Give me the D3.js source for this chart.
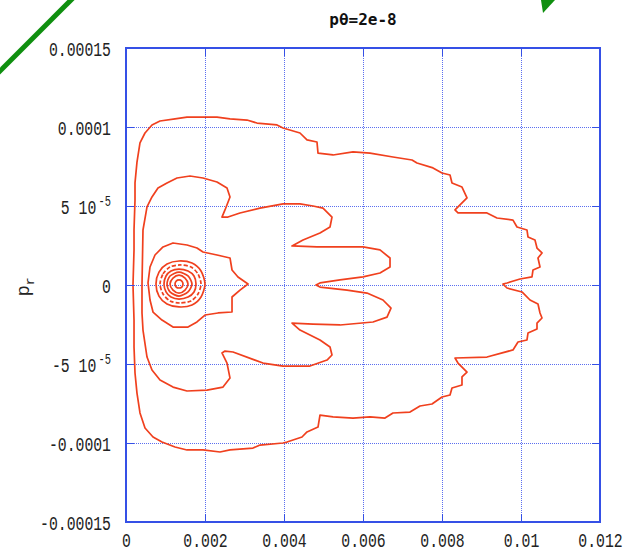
<!DOCTYPE html>
<html><head><meta charset="utf-8">
<script src="https://cdn.jsdelivr.net/npm/d3@7"></script>
<style>
html,body{margin:0;padding:0;background:#fff;}
svg{display:block;}
</style></head><body>
<svg id="chart" width="625" height="553"></svg>
<script>
// Contour points are stored as [r, p_r] with r in units of 1e-3 and p_r in units of 1e-5.
const R_UNIT = 1e-3, P_UNIT = 1e-5;

const titleText = "pθ=2e-8";
const xTickValues = [0, 0.002, 0.004, 0.006, 0.008, 0.01, 0.012];
const xTickLabels = ["0", "0.002", "0.004", "0.006", "0.008", "0.01", "0.012"];
const yTickValues = [-0.00015, -0.0001, -0.00005, 0, 0.00005, 0.0001, 0.00015];
// [mantissa part, exponent part]
const yTickLabels = [["-0.00015", ""], ["-0.0001", ""], ["-5 10", "-5"], ["0", ""], ["5 10", "-5"], ["0.0001", ""], ["0.00015", ""]];

// Outermost level
const contourOuter = [
  [0.177, 0], [0.203, 2.22], [0.203, 3.48], [0.228, 5.38], [0.228, 6.46], [0.278, 7.78],
  [0.354, 8.99], [0.481, 9.62], [0.658, 10.13], [0.861, 10.38], [1.241, 10.51], [1.544, 10.63],
  [1.873, 10.63], [2.304, 10.63], [2.633, 10.51], [3.063, 10.44], [3.316, 10.25], [3.823, 10.13],
  [3.975, 9.94], [4.405, 9.62], [4.582, 9.18], [4.835, 9.05], [4.861, 8.35], [5.241, 8.23],
  [5.747, 8.42], [6.177, 8.35], [6.759, 8.10], [7.241, 7.91], [7.367, 7.72], [7.772, 7.41],
  [8.000, 7.09], [8.203, 6.96], [8.253, 6.46], [8.506, 6.20], [8.633, 5.51], [8.329, 4.75],
  [8.405, 4.56], [9.139, 4.56], [9.392, 4.24], [9.797, 4.11], [9.899, 3.67], [10.152, 3.48],
  [10.177, 3.04], [10.354, 2.85], [10.405, 2.34], [10.532, 2.03], [10.430, 1.71], [10.481, 1.14],
  [10.304, 0.95], [10.278, 0.51], [9.975, 0.38], [9.646, 0.13], [9.544, 0.06], [9.646, -0.19],
  [10.025, -0.44], [10.228, -0.95], [10.430, -1.20], [10.481, -1.77], [10.532, -2.09], [10.405, -2.41],
  [10.405, -2.78], [10.177, -3.04], [10.152, -3.48], [9.924, -3.61], [9.797, -4.11], [9.139, -4.56],
  [8.329, -4.62], [8.405, -4.94], [8.633, -5.51], [8.506, -5.82], [8.506, -6.33], [8.253, -6.52],
  [8.203, -6.96], [8.000, -7.09], [7.747, -7.53], [7.443, -7.66], [7.190, -8.04], [6.759, -8.10],
  [6.557, -8.42], [6.177, -8.35], [5.747, -8.42], [5.241, -8.35], [4.911, -8.23], [4.861, -8.99],
  [4.582, -9.30], [4.456, -9.62], [4.076, -9.94], [3.975, -10.00], [3.392, -10.13], [3.215, -10.32],
  [2.633, -10.44], [2.380, -10.57], [1.949, -10.44], [1.544, -10.44], [1.241, -10.25], [0.911, -9.94],
  [0.684, -9.62], [0.481, -9.05], [0.354, -8.10], [0.278, -6.84], [0.228, -5.57], [0.203, -3.92],
  [0.203, -2.22]
];

// Second level, with the lobes
const contourLobed = [
  [0.405, 0], [0.430, 3.48], [0.532, 4.94], [0.658, 5.57], [0.810, 6.14], [1.038, 6.46],
  [1.291, 6.77], [1.620, 6.90], [1.949, 6.77], [2.304, 6.52], [2.557, 6.14], [2.633, 5.57],
  [2.506, 4.75], [2.430, 4.30], [2.582, 4.30], [2.886, 4.56], [3.392, 4.87], [3.975, 5.13],
  [4.405, 5.13], [4.734, 5.00], [4.987, 4.87], [5.215, 4.30], [5.165, 3.67], [4.911, 3.29],
  [4.481, 2.85], [4.203, 2.47], [4.835, 2.41], [6.000, 2.41], [6.430, 2.22], [6.684, 1.71],
  [6.684, 1.14], [6.430, 0.76], [6.000, 0.51], [5.418, 0.32], [4.911, 0.13], [4.810, 0],
  [4.911, -0.13], [5.595, -0.32], [6.101, -0.51], [6.506, -0.95], [6.709, -1.46], [6.608, -2.03],
  [6.253, -2.34], [5.418, -2.53], [4.734, -2.47], [4.203, -2.41], [4.405, -2.85], [4.911, -3.48],
  [5.165, -3.92], [5.215, -4.43], [5.089, -4.75], [4.658, -5.13], [3.975, -5.13], [3.468, -4.94],
  [2.709, -4.24], [2.506, -4.18], [2.430, -4.30], [2.557, -4.94], [2.633, -5.89], [2.456, -6.46],
  [2.051, -6.65], [1.544, -6.71], [1.190, -6.46], [0.861, -6.01], [0.658, -5.38], [0.532, -4.56],
  [0.430, -2.85], [0.405, -1.77]
];

// Third level, around the centre
const contourThird = [
  [0.557, 0.13], [0.608, 1.14], [0.734, 1.90], [0.937, 2.41], [1.190, 2.66], [1.544, 2.53],
  [1.797, 2.34], [1.949, 2.09], [2.304, 1.90], [2.633, 1.71], [2.684, 0.95], [2.835, 0.51],
  [3.089, 0.06], [2.886, -0.32], [2.684, -0.76], [2.684, -1.71], [2.329, -1.77], [2.000, -1.90],
  [1.797, -2.34], [1.570, -2.66], [1.190, -2.66], [0.911, -2.22], [0.684, -1.71], [0.608, -0.95]
];

// Inner rings around the centre (r ≈ 0.0013)
const ringA = [[0.759, 0.06], [0.835, 0.82], [1.038, 1.33], [1.342, 1.52], [1.671, 1.39], [1.899, 0.89],
  [2.0, 0.06], [1.899, -0.76], [1.671, -1.27], [1.342, -1.39], [1.038, -1.20], [0.835, -0.70]];
const ringB = [[0.861, 0.06], [0.937, 0.70], [1.114, 1.14], [1.367, 1.27], [1.646, 1.14], [1.823, 0.70],
  [1.899, 0.06], [1.823, -0.57], [1.646, -1.01], [1.367, -1.14], [1.114, -1.01], [0.937, -0.57]];
const ringC = [[0.962, 0.06], [1.013, 0.57], [1.139, 0.89], [1.342, 1.01], [1.570, 0.89], [1.722, 0.57],
  [1.772, 0.06], [1.722, -0.44], [1.570, -0.76], [1.342, -0.89], [1.139, -0.76], [1.013, -0.44]];
const ringD = [[1.038, 0.06], [1.114, 0.57], [1.342, 0.82], [1.570, 0.57], [1.671, 0.06], [1.570, -0.44],
  [1.342, -0.70], [1.114, -0.44]];
const ringE = [[1.114, 0.06], [1.190, 0.44], [1.342, 0.63], [1.494, 0.44], [1.570, 0.06], [1.494, -0.32],
  [1.342, -0.51], [1.190, -0.32]];
const ringF = [[1.241, 0.06], [1.271, 0.25], [1.342, 0.32], [1.413, 0.25], [1.443, 0.06], [1.413, -0.13],
  [1.342, -0.19], [1.271, -0.13]];

// ---------------------------------------------------------------------------
const svg = d3.select("#chart");
svg.append("rect").attr("width", 625).attr("height", 553).attr("fill", "#fff");

const plotLeft = 126, plotRight = 600, plotTop = 48, plotBottom = 522;
const x = d3.scaleLinear().domain([0, 0.012]).range([plotLeft, plotRight]);
const y = d3.scaleLinear().domain([-0.00015, 0.00015]).range([plotBottom, plotTop]);

const GRID = "#5b6ff0", FRAME = "#3550e6", LINE = "#f0401e";
const MONO = "'Liberation Mono', 'DejaVu Sans Mono', monospace";
const SX = 0.74; // horizontal condensing of the label glyphs

// dotted grid
const grid = svg.append("g").attr("shape-rendering", "crispEdges");
grid.selectAll("line.vx").data(xTickValues.slice(1, -1)).join("line")
  .attr("x1", d => Math.round(x(d)) + 0.5).attr("x2", d => Math.round(x(d)) + 0.5)
  .attr("y1", plotTop).attr("y2", plotBottom)
  .attr("stroke", GRID).attr("stroke-width", 1).attr("stroke-dasharray", "1,1");
grid.selectAll("line.hy").data(yTickValues.slice(1, -1)).join("line")
  .attr("y1", d => Math.round(y(d)) + 0.5).attr("y2", d => Math.round(y(d)) + 0.5)
  .attr("x1", plotLeft).attr("x2", plotRight)
  .attr("stroke", GRID).attr("stroke-width", 1).attr("stroke-dasharray", "1,1");

// contours
const line = d3.line()
  .x(d => x(d[0] * R_UNIT))
  .y(d => y(d[1] * P_UNIT))
  .curve(d3.curveLinearClosed);
const smooth = d3.line()
  .x(d => x(d[0] * R_UNIT))
  .y(d => y(d[1] * P_UNIT))
  .curve(d3.curveCardinalClosed.tension(0.2));

const cg = svg.append("g").attr("fill", "none").attr("stroke", LINE)
  .attr("stroke-width", 1.7).attr("stroke-linejoin", "round");
cg.append("path").attr("d", line(contourOuter));
cg.append("path").attr("d", line(contourLobed));
cg.append("path").attr("d", line(contourThird));
cg.append("path").attr("d", smooth(ringA));
cg.append("path").attr("d", smooth(ringB)).attr("stroke-dasharray", "4,2");
cg.append("path").attr("d", smooth(ringC));
cg.append("path").attr("d", smooth(ringD));
cg.append("path").attr("d", smooth(ringE));
cg.append("path").attr("d", smooth(ringF));

// frame and inward ticks
const frame = svg.append("g").attr("stroke", FRAME).attr("shape-rendering", "crispEdges");
frame.append("rect").attr("x", plotLeft).attr("y", plotTop)
  .attr("width", plotRight - plotLeft).attr("height", plotBottom - plotTop)
  .attr("fill", "none").attr("stroke-width", 2);
const TL = 8;
xTickValues.slice(1, -1).forEach(v => {
  const px = Math.round(x(v)) + 0.5;
  frame.append("line").attr("x1", px).attr("x2", px).attr("y1", plotTop).attr("y2", plotTop + TL).attr("stroke-width", 1.5);
  frame.append("line").attr("x1", px).attr("x2", px).attr("y1", plotBottom).attr("y2", plotBottom - TL).attr("stroke-width", 1.5);
});
yTickValues.slice(1, -1).forEach(v => {
  const py = Math.round(y(v)) + 0.5;
  frame.append("line").attr("y1", py).attr("y2", py).attr("x1", plotLeft).attr("x2", plotLeft + TL).attr("stroke-width", 1.5);
  frame.append("line").attr("y1", py).attr("y2", py).attr("x1", plotRight).attr("x2", plotRight - TL).attr("stroke-width", 1.5);
});

// axis labels via d3 axes
const xAxis = svg.append("g").attr("transform", `translate(0,${plotBottom})`)
  .call(d3.axisBottom(x).tickValues(xTickValues).tickSize(0)
    .tickFormat((d, i) => xTickLabels[i]));
xAxis.select(".domain").remove();
xAxis.selectAll("text")
  .attr("font-family", MONO).attr("font-size", 20).attr("fill", "#222")
  .attr("y", 0).attr("dy", 0)
  .attr("transform", `translate(0,25) scale(${SX},1)`);

const yAxis = svg.append("g").attr("transform", `translate(${plotLeft},0)`)
  .call(d3.axisLeft(y).tickValues(yTickValues).tickSize(0).tickFormat(() => ""));
yAxis.select(".domain").remove();
yAxis.selectAll(".tick text").each(function (d, i) {
  const t = d3.select(this);
  const [mant, expo] = yTickLabels[i];
  t.attr("font-family", MONO).attr("font-size", 20).attr("fill", "#222")
    .attr("text-anchor", "end").attr("x", 0).attr("dy", 0)
    .attr("transform", `translate(-15,7) scale(${SX},1)`);
  t.text(null);
  t.append("tspan").text(mant);
  if (expo) {
    t.append("tspan").attr("font-size", 14).attr("dy", -8).attr("dx", 3).text(expo);
  }
});

// axis title p_r
const yt = svg.append("text")
  .attr("transform", "translate(29,287) rotate(-90)")
  .attr("text-anchor", "middle")
  .attr("font-family", MONO).attr("font-size", 19).attr("fill", "#222");
yt.append("tspan").text("p");
yt.append("tspan").attr("font-size", 13).attr("dy", 5).text("r");

// chart title
svg.append("text").attr("x", 363).attr("y", 25).attr("text-anchor", "middle")
  .attr("font-family", "'DejaVu Sans Mono', monospace").attr("font-weight", "bold").attr("font-size", 16)
  .attr("fill", "#111").text(titleText);

// green annotation marks
svg.append("line").attr("x1", -6).attr("y1", 77).attr("x2", 77).attr("y2", -6)
  .attr("stroke", "#0f8f0f").attr("stroke-width", 5);
svg.append("path").attr("d", "M541,0 L555,0 L543,13 Z").attr("fill", "#0f8f0f");
</script>
</body></html>
